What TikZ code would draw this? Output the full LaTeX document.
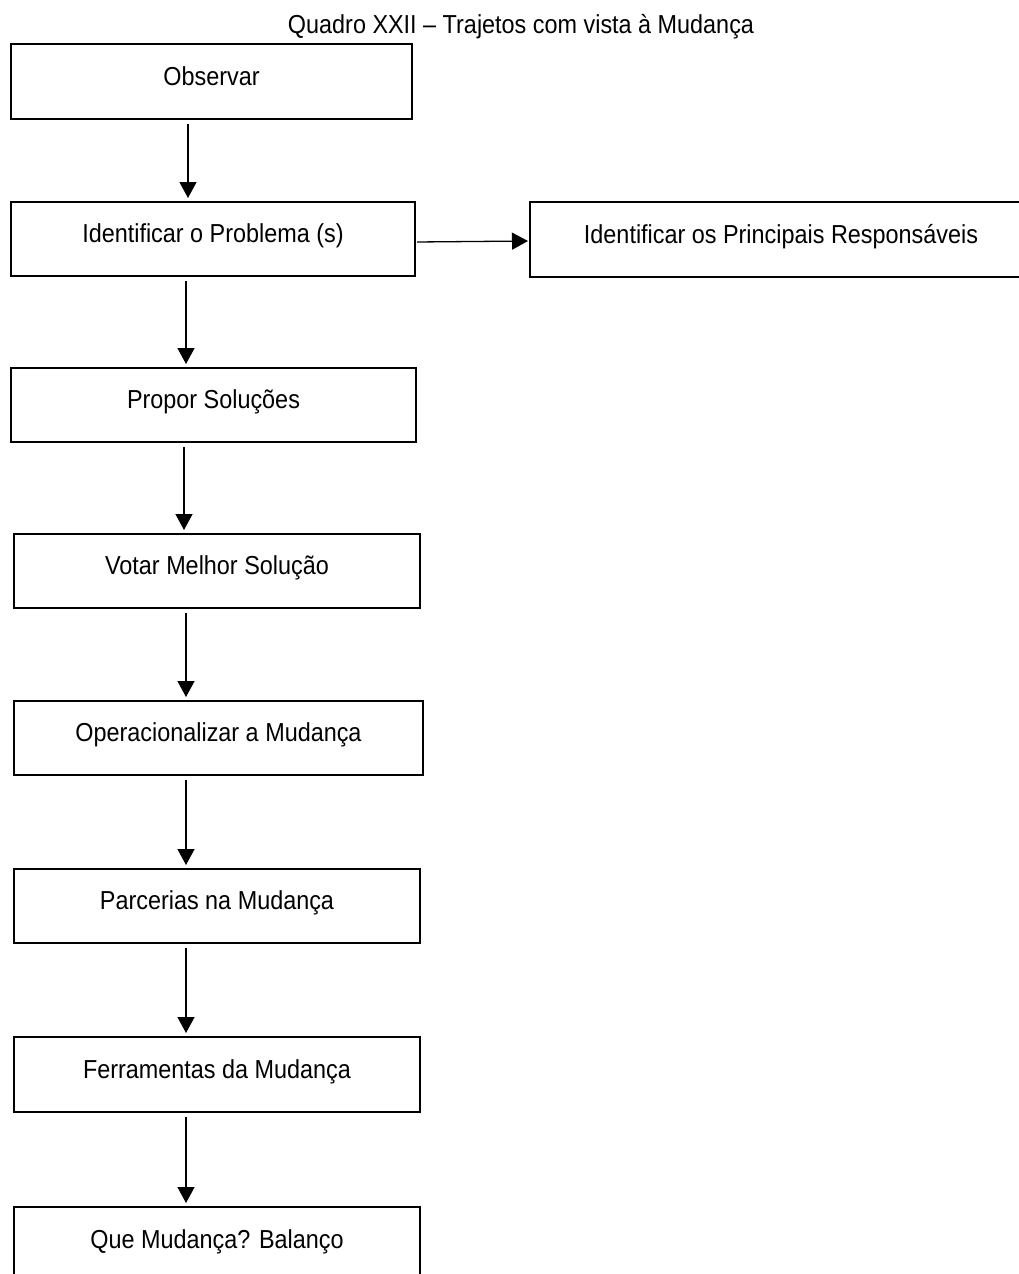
\documentclass[tikz,border=0pt]{standalone}
\usepackage{fontspec}
\setmainfont{Liberation Sans}[FakeStretch=0.9]
\usetikzlibrary{arrows.meta}
\begin{document}
\begin{tikzpicture}[x=1pt,y=-1pt,
  font=\fontsize{26pt}{30pt}\selectfont,
  box/.style={draw=black, line width=2pt, rectangle, inner sep=0pt,
    text height=20pt, text depth=13pt, minimum height=74pt},
  arr/.style={draw=black, line width=1.3pt, -{Triangle[length=16pt,width=17pt]},
    shorten <=4pt, shorten >=3pt}
]
\fill[white] (0,0) rectangle (1018,1274);
\useasboundingbox (0,0) rectangle (1018,1274);

\node[anchor=base] (title) at (521,33) {Quadro XXII – Trajetos com vista à Mudança};

\node[box, minimum width=401pt, minimum height=75pt] (obs)   at (211.5,81.5) {Observar};
\node[box, minimum width=404pt] (ident) at (213,239) {Identificar o Problema (s)};
\node[box, minimum width=502pt, minimum height=75pt] (resp)  at (781,239.5) {Identificar os Principais Responsáveis};
\node[box, minimum width=405pt] (prop)  at (213.5,405) {Propor Soluções};
\node[box, minimum width=406pt] (vot)   at (217,571) {Votar Melhor Solução};
\node[box, minimum width=409pt] (oper)  at (218.5,738) {Operacionalizar a Mudança};
\node[box, minimum width=406pt] (parc)  at (217,906) {Parcerias na Mudança};
\node[box, minimum width=406pt, minimum height=75pt] (ferr)  at (217,1074.5) {Ferramentas da Mudança};
\node[box, minimum width=406pt, minimum height=75pt] (que)   at (217,1244.5) {Que Mudança? Balanço};

\draw[arr] ([xshift=-23.5pt]obs.south) -- ([xshift=-23.5pt]obs.south |- ident.north);
\draw[arr] ([xshift=-27pt]ident.south) -- ([xshift=-27pt]ident.south |- prop.north);
\draw[arr] ([xshift=-29.5pt]prop.south) -- ([xshift=-29.5pt]prop.south |- vot.north);
\draw[arr] ([xshift=-31pt]vot.south) -- ([xshift=-31pt]vot.south |- oper.north);
\draw[arr] ([xshift=-32.5pt]oper.south) -- ([xshift=-32.5pt]oper.south |- parc.north);
\draw[arr] ([xshift=-31pt]parc.south) -- ([xshift=-31pt]parc.south |- ferr.north);
\draw[arr] ([xshift=-31pt]ferr.south) -- ([xshift=-31pt]ferr.south |- que.north);

\draw[arr, shorten <=1pt, shorten >=1pt] ([yshift=-3pt]ident.east) -- ([yshift=-1.5pt]resp.west);
\end{tikzpicture}
\end{document}
